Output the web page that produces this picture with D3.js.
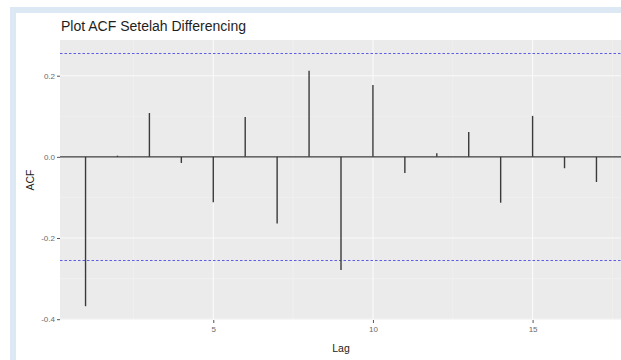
<!DOCTYPE html>
<meta charset="utf-8">
<style type="text/css">
body { margin: 0; background: #fff; }
.grid-major line { stroke: #fafafa; stroke-width: 1.1; }
.grid-minor line { stroke: #f3f3f3; stroke-width: 0.6; }
.axis text { font-family: "Liberation Sans", Arial, sans-serif; font-size: 8px; fill: #6a6a6a; }
.axis line { stroke: #555; }
.axis path { display: none; }
.title { font-family: "Liberation Sans", Arial, sans-serif; font-size: 14px; fill: #1e1e1e; }
.lab { font-family: "Liberation Sans", Arial, sans-serif; font-size: 10.5px; fill: #222; }
</style>
<body>
</body>
<script src="https://d3js.org/d3.v7.min.js"></script>
<script>

// chart values
var lags = [1, 2, 3, 4, 5, 6, 7, 8, 9, 10, 11, 12, 13, 14, 15, 16, 17];
var acf  = [-0.368, 0.003, 0.108, -0.015, -0.112, 0.098, -0.164, 0.212, -0.279, 0.177, -0.040, 0.009, 0.061, -0.113, 0.101, -0.028, -0.062];
var ci = 0.255;
var yTicks = [0.2, 0.0, -0.2, -0.4];
var yMinor = [0.1, -0.1, -0.3];
var xTicks = [5, 10, 15];
var xMinor = [2.5, 7.5, 12.5, 17.5];

var W = 621, H = 360;
var panel = {left: 60, top: 40, right: 622, bottom: 320};

var svg = d3.select("body").append("svg")
    .attr("width", W)
    .attr("height", H);

// light blue frame round the picture
svg.append("rect").attr("x", 10).attr("y", 7).attr("width", W - 10).attr("height", 6).attr("fill", "#dde8f5");
svg.append("rect").attr("x", 10).attr("y", 7).attr("width", 6).attr("height", H - 7).attr("fill", "#dde8f5");

var x = d3.scaleLinear()
    .domain([0.2, 17.8])
    .range([panel.left, panel.right]);

var y = d3.scaleLinear()
    .domain([-0.402, 0.288])
    .range([panel.bottom, panel.top]);

// snap horizontal lines to the pixel grid
function yc(v) { return Math.round(y(v)) + 0.5; }

svg.append("rect")
    .attr("x", panel.left).attr("y", panel.top)
    .attr("width", panel.right - panel.left)
    .attr("height", panel.bottom - panel.top)
    .attr("fill", "#ebebeb");

// grid lines
var gMinor = svg.append("g").attr("class", "grid-minor");
gMinor.selectAll("line.h").data(yMinor).enter().append("line")
    .attr("x1", panel.left).attr("x2", panel.right)
    .attr("y1", function(d) { return y(d); }).attr("y2", function(d) { return y(d); });
gMinor.selectAll("line.v").data(xMinor).enter().append("line")
    .attr("y1", panel.top).attr("y2", panel.bottom)
    .attr("x1", function(d) { return x(d); }).attr("x2", function(d) { return x(d); });

var gMajor = svg.append("g").attr("class", "grid-major");
gMajor.selectAll("line.h").data(yTicks).enter().append("line")
    .attr("x1", panel.left).attr("x2", panel.right)
    .attr("y1", function(d) { return y(d); }).attr("y2", function(d) { return y(d); });
gMajor.selectAll("line.v").data(xTicks).enter().append("line")
    .attr("y1", panel.top).attr("y2", panel.bottom)
    .attr("x1", function(d) { return x(d); }).attr("x2", function(d) { return x(d); });

// confidence bounds
svg.selectAll("line.ci").data([ci, -ci]).enter().append("line")
    .attr("class", "ci")
    .attr("x1", panel.left).attr("x2", panel.right)
    .attr("y1", function(d) { return yc(d); }).attr("y2", function(d) { return yc(d); })
    .attr("stroke", "#5c5ce8")
    .attr("stroke-width", 1)
    .attr("stroke-dasharray", "2.5,2");

// zero line
svg.append("line")
    .attr("x1", panel.left).attr("x2", panel.right)
    .attr("y1", y(0)).attr("y2", y(0))
    .attr("stroke", "#3a3a3a").attr("stroke-width", 1.4);

// acf segments
svg.selectAll("line.bar").data(lags).enter().append("line")
    .attr("class", "bar")
    .attr("x1", function(d) { return x(d); }).attr("x2", function(d) { return x(d); })
    .attr("y1", y(0))
    .attr("y2", function(d, i) { return y(acf[i]); })
    .attr("stroke", "#3a3a3a").attr("stroke-width", 1.4);

// axes
var yAxis = d3.axisLeft(y).tickValues(yTicks)
    .tickFormat(function(d) { return d3.format(".1f")(d).replace("\u2212", "-"); })
    .tickSize(3).tickPadding(2);
svg.append("g").attr("class", "axis")
    .attr("transform", "translate(" + panel.left + ",0)")
    .call(yAxis);

var xAxis = d3.axisBottom(x).tickValues(xTicks).tickSize(3).tickPadding(3);
svg.append("g").attr("class", "axis")
    .attr("transform", "translate(0," + panel.bottom + ")")
    .call(xAxis);

svg.append("text").attr("class", "title")
    .attr("x", 61).attr("y", 31)
    .text("Plot ACF Setelah Differencing");

svg.append("text").attr("class", "lab")
    .attr("x", (panel.left + panel.right) / 2).attr("y", 352)
    .attr("text-anchor", "middle")
    .text("Lag");

svg.append("text").attr("class", "lab")
    .attr("transform", "translate(34," + (panel.top + panel.bottom) / 2 + ") rotate(-90)")
    .attr("text-anchor", "middle")
    .text("ACF");

</script>
